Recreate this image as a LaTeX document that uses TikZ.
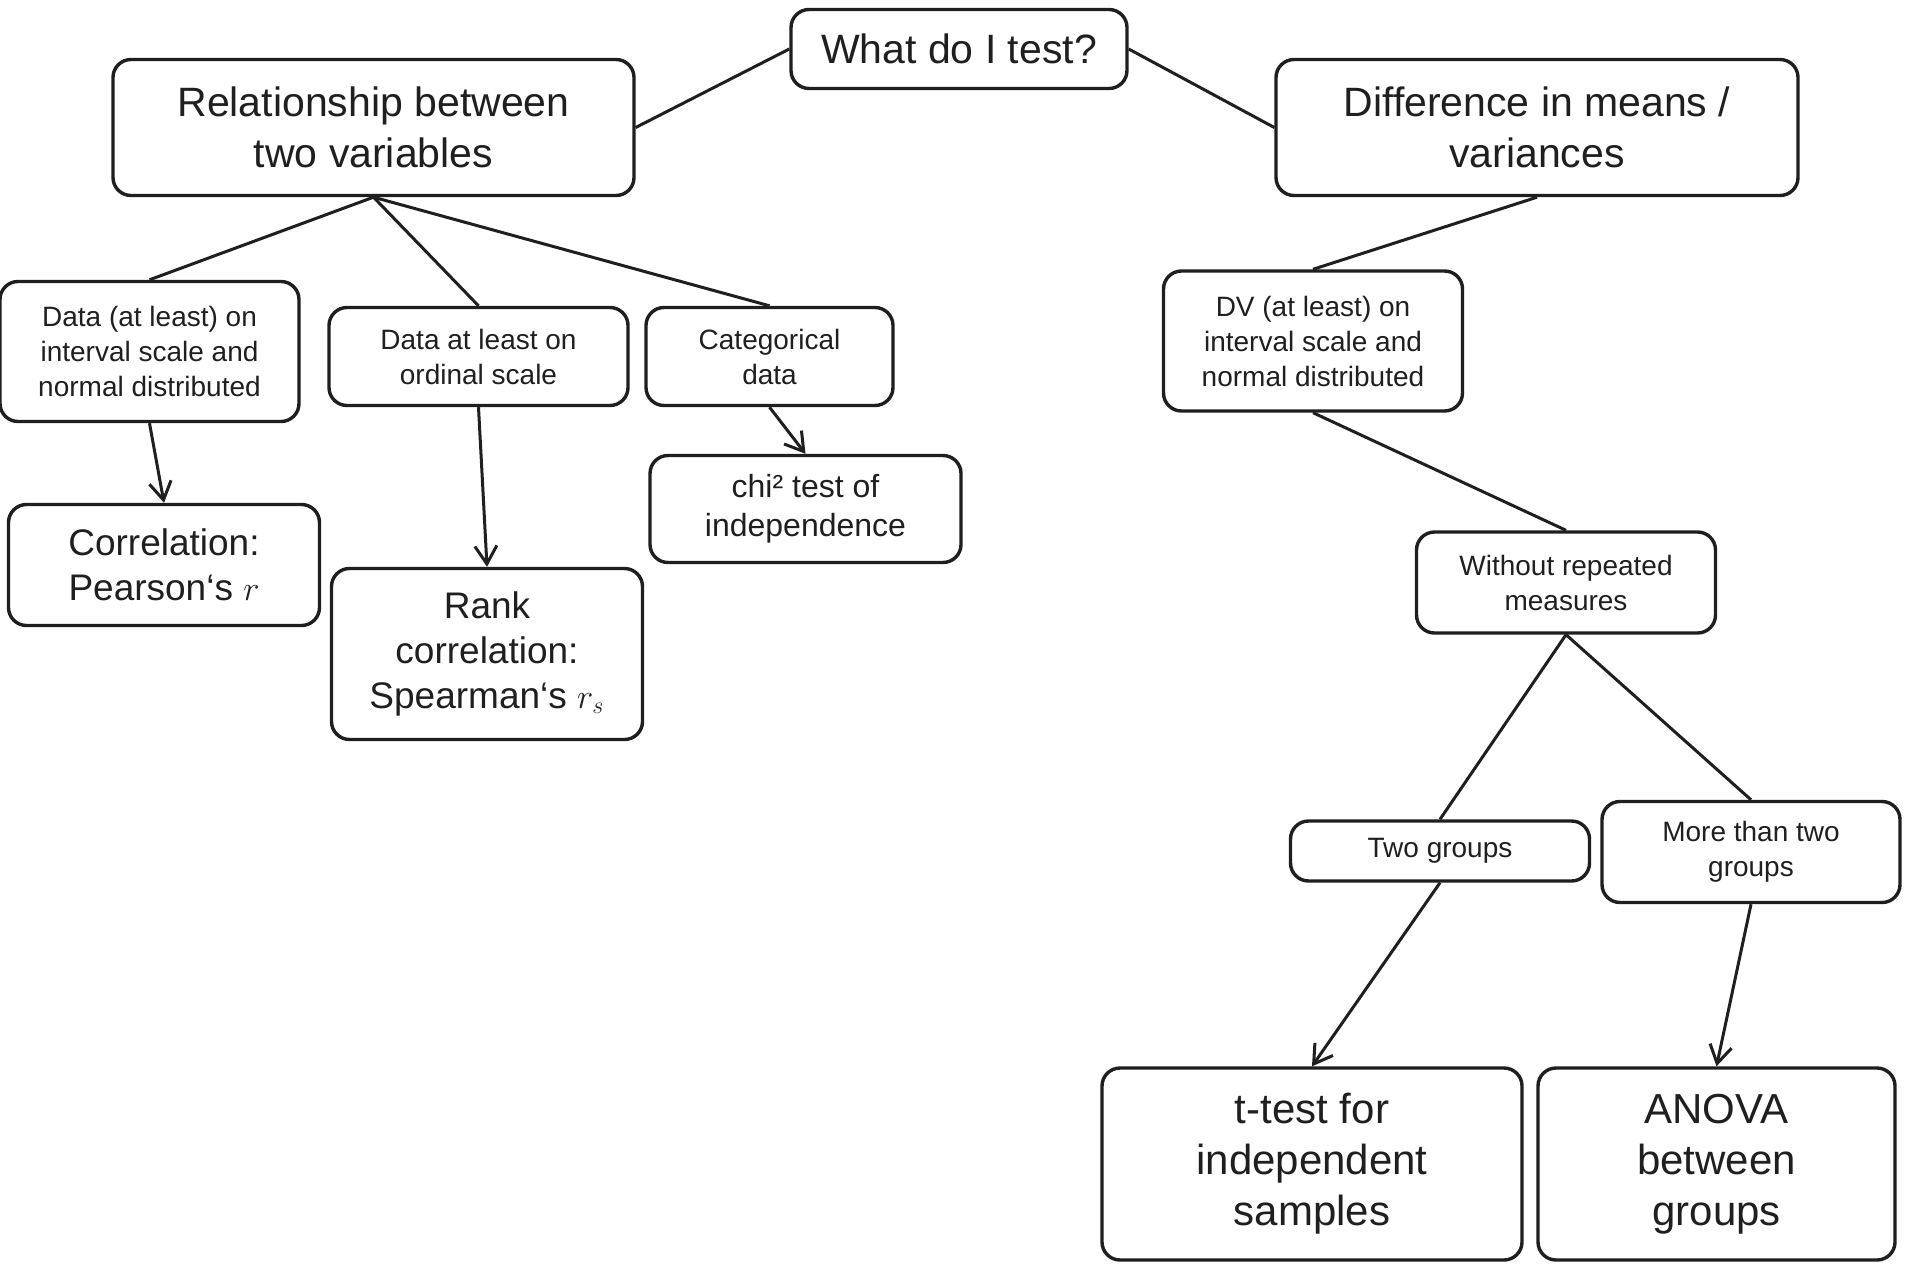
\documentclass[tikz,border=0pt]{standalone}
\usepackage{fontspec}
\setmainfont{Liberation Sans}
\usetikzlibrary{arrows.meta}

\begin{document}
\begin{tikzpicture}[
  x=0.5pt, y=-0.5pt,
  every node/.style={text=black!88},
  box/.style={draw=black!88, line width=1.7pt, rounded corners=9pt, align=center, inner sep=2pt},
  large/.style={box, font=\fontsize{20.5}{25.5}\selectfont},
  huge/.style={box, font=\fontsize{21}{25.5}\selectfont},
  medium/.style={box, font=\fontsize{18.5}{22.5}\selectfont},
  normal/.style={box, font=\fontsize{16}{19.5}\selectfont},
  small/.style={box, font=\fontsize{14}{17.5}\selectfont},
  link/.style={draw=black!88, line width=1.5pt},
  arrow/.style={link, -{Straight Barb[length=9pt,width=11pt,line width=1.5pt]}}
]
\useasboundingbox (0,0) rectangle (1905,1263);

% top
\node[large, minimum width=168pt, minimum height=39.5pt] (test) at (959,49) {What do I test?};
\node[large, minimum width=260.5pt, minimum height=68pt] (relation) at (373.5,127.5) {Relationship between\\two variables};
\node[large, minimum width=261pt, minimum height=68pt] (difference) at (1537,127.5) {Difference in means /\\variances};

% relationship branch
\node[small, minimum width=149.5pt, minimum height=70pt] (interval) at (149.5,351.5) {Data (at least) on\\interval scale and\\normal distributed};
\node[small, minimum width=149.5pt, minimum height=49pt] (ordinal) at (478.5,356.5) {Data at least on\\ordinal scale};
\node[small, minimum width=123.5pt, minimum height=49pt] (categorical) at (769.5,356.5) {Categorical\\data};
\node[medium, minimum width=155.5pt, minimum height=60.5pt] (pearson) at (164,565) {Correlation:\\Pearson‘s $r$};
\node[medium, minimum width=155.5pt, minimum height=85.5pt] (spearman) at (487,654) {Rank\\correlation:\\Spearman‘s $r_s$};
\node[normal, minimum width=155.5pt, minimum height=53.5pt] (chi) at (805.5,509) {chi² test of\\independence};

% difference branch
\node[small, minimum width=149.5pt, minimum height=70pt] (dv) at (1313,341) {DV (at least) on\\interval scale and\\normal distributed};
\node[small, minimum width=149.5pt, minimum height=50.5pt] (norepeat) at (1566,582.5) {Without repeated\\measures};
\node[small, minimum width=149.5pt, minimum height=30pt] (twogroups) at (1440,851) {Two groups};
\node[small, minimum width=149pt, minimum height=50.5pt] (moregroups) at (1751,852) {More than two\\groups};
\node[huge, minimum width=210pt, minimum height=96pt] (ttest) at (1312,1164) {t-test for\\independent\\samples};
\node[huge, minimum width=178.5pt, minimum height=96pt] (anova) at (1716.5,1164) {ANOVA\\between\\groups};

\draw[link] (test.west) -- (relation.east);
\draw[link] (test.east) -- (difference.west);
\draw[link] (relation.south) -- (interval.north);
\draw[link] (relation.south) -- (ordinal.north);
\draw[link] (relation.south) -- (categorical.north);
\draw[arrow] (interval.south) -- (pearson.north);
\draw[arrow] (ordinal.south) -- (spearman.north);
\draw[arrow] (categorical.south) -- (chi.north);
\draw[link] (difference.south) -- (dv.north);
\draw[link] (dv.south) -- (norepeat.north);
\draw[link] (norepeat.south) -- (twogroups.north);
\draw[link] (norepeat.south) -- (moregroups.north);
\draw[arrow] (twogroups.south) -- (ttest.north);
\draw[arrow] (moregroups.south) -- (anova.north);
\end{tikzpicture}
\end{document}
